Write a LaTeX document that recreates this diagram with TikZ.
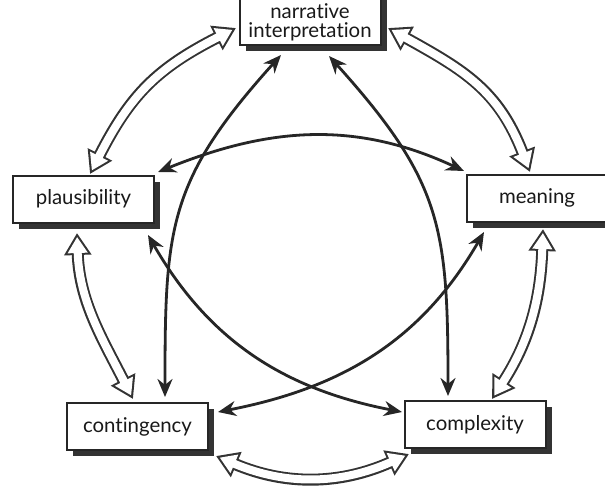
\documentclass[tikz,border=0pt]{standalone}
\usepackage{fontspec}
\setmainfont{Lato}[Ligatures={NoCommon,NoRare}]
\usepackage{tikz}
\usetikzlibrary{arrows.meta}
\usetikzlibrary{shadows}
\usetikzlibrary{calc}
\tikzstyle{box}=[draw=black!85,line width=1pt,fill=white,rectangle,
minimum width=70.5pt,minimum height=23.5pt,inner sep=2pt,align=center,
text=black!90,font=\fontsize{10.2}{9.5}\selectfont,
drop shadow={shadow xshift=3pt,shadow yshift=-3pt,fill=black!80,opacity=1}]
\tikzstyle{link}=[line width=1.4pt,black!85,
{Stealth[length=9pt,width=7.5pt]}-{Stealth[length=9pt,width=7.5pt]}]
\tikzstyle{ring} = 
[line width=6pt,black!80,
{Triangle[length=11pt,width=13pt]}-{Triangle[length=11pt,width=13pt]},
postaction={draw=white,line width=4pt,shorten <=2pt,shorten >=2pt,
{Triangle[length=8pt,width=9.5pt]}-{Triangle[length=8pt,width=9.5pt]}}]

\begin{document}
\begin{tikzpicture}[x=0.5pt,y=-0.5pt]
	\useasboundingbox (0,0) rectangle (605,488);

	\node[box, minimum height=34pt] (narr) at (310,11) {\rule{0pt}{18.5pt}narrative\\interpretation};
	\node[box] (plaus) at (83.5,199) {plausibility};
	\node[box] (mean) at (537,198) {meaning};
	\node[box] (cont) at (137.5,426.5) {contingency};
	\node[box] (comp) at (475,424.5) {complexity};

% % % outer ring
	\path[draw,ring] ($(plaus.north)+(6.5,-0.5)$) to[out=63,in=207,looseness=1.1] ($(narr.west)+(-2.5,17)$);
	\path[draw,ring] ($(narr.east)+(6.5,17)$) to[out=331,in=111,looseness=1.1] ($(mean.north)+(-7,-1.5)$);
	\path[draw,ring] ($(plaus.south)+(-6.5,9.5)$) to[out=272,in=117] ($(cont.north)+(-4.5,-3)$);
	\path[draw,ring] ($(mean.south)+(6,6.5)$) to[out=268,in=57] ($(comp.north)+(17,-1)$);
	\path[draw,ring] ($(cont.south east)+(7,5)$) to[out=337,in=204] ($(comp.south west)+(5.5,5)$);

% % % inner star
	\path[draw,link] ($(plaus.north east)+(3,-2.5)$) to[out=22,in=155] ($(mean.north west)+(-1.5,-2.5)$);
	\path[draw,link] ($(narr.south)+(-29,9)$) to[out=228,in=90,looseness=1.2] ($(cont.north)+(27.5,-5)$);
	\path[draw,link] ($(narr.south)+(19,10)$) to[out=312,in=90,looseness=1.2] ($(comp.north)+(-27,-4)$);
	\path[draw,link] ($(plaus.south east)+(-7,11.5)$) to[out=300,in=169] ($(comp.west)+(-1.5,-12.5)$);
	\path[draw,link] ($(mean.south west)+(18.5,9.5)$) to[out=240,in=11] ($(cont.east)+(9,-14.5)$);
\end{tikzpicture}
\end{document}
